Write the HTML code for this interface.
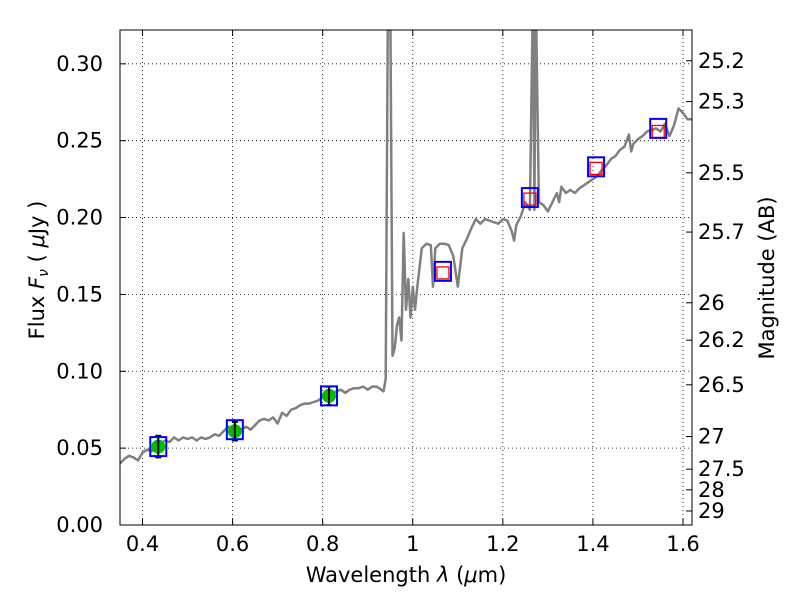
<!DOCTYPE html>
<html><head><meta charset="utf-8"><style>
body{margin:0;background:#fff}
svg text{font-family:"DejaVu Sans","Liberation Sans",sans-serif;fill:#000}
</style></head><body>
<svg id="chart" width="800" height="600" xmlns="http://www.w3.org/2000/svg">
<defs><clipPath id="clip"><rect x="120" y="30" width="572" height="495"/></clipPath></defs>
<g id="grid"></g>
<g id="spec" clip-path="url(#clip)"></g>
<g id="marks"></g>
<rect x="120" y="30" width="572" height="495" fill="none" stroke="#000" stroke-width="1"/>
<g id="axes"></g>
<text x="406" y="582" font-size="21" text-anchor="middle">Wavelength  <tspan font-style="italic">λ</tspan> (<tspan font-style="italic">μ</tspan>m)</text>
<text transform="translate(44,270) rotate(-90)" font-size="21" text-anchor="middle">Flux  <tspan font-style="italic">F</tspan><tspan font-style="italic" font-size="14" dy="4">ν</tspan><tspan dy="-4">  (  </tspan><tspan font-style="italic">μ</tspan>Jy )</text>
<text transform="translate(774,278) rotate(-90)" font-size="21" text-anchor="middle">Magnitude (AB)</text>
</svg>
<script>
const xTicks=[0.4,0.6,0.8,1,1.2,1.4,1.6];
const xTickLabels=["0.4","0.6","0.8","1","1.2","1.4","1.6"];
const yTicks=[0,0.05,0.1,0.15,0.2,0.25,0.3];
const yTickLabels=["0.00","0.05","0.10","0.15","0.20","0.25","0.30"];
const magTicks=[25.2,25.3,25.5,25.7,26,26.2,26.5,27,27.5,28,29];
const magTickLabels=["25.2","25.3","25.5","25.7","26","26.2","26.5","27","27.5","28","29"];
const specWave=[0.35,0.36,0.37,0.38,0.39,0.40,0.41,0.42,0.43,0.44,0.45,0.46,0.47,0.48,0.49,0.50,0.51,0.52,0.53,0.54,0.55,0.56,0.57,0.58,0.59,0.60,0.61,0.62,0.63,0.64,0.65,0.66,0.67,0.68,0.69,0.70,0.71,0.72,0.73,0.74,0.75,0.76,0.77,0.78,0.79,0.80,0.81,0.82,0.83,0.84,0.85,0.86,0.87,0.88,0.89,0.90,0.91,0.92,0.93,0.935,0.94,0.945,0.95,0.955,0.96,0.965,0.97,0.975,0.98,0.985,0.99,0.995,1.00,1.005,1.01,1.02,1.03,1.04,1.045,1.05,1.06,1.07,1.08,1.09,1.10,1.11,1.12,1.13,1.14,1.15,1.16,1.17,1.18,1.19,1.20,1.21,1.22,1.225,1.23,1.24,1.25,1.26,1.267,1.27,1.273,1.28,1.29,1.30,1.31,1.32,1.325,1.33,1.34,1.35,1.36,1.37,1.38,1.39,1.40,1.41,1.42,1.43,1.44,1.45,1.46,1.47,1.48,1.485,1.49,1.50,1.51,1.52,1.53,1.54,1.55,1.56,1.57,1.58,1.59,1.60,1.61,1.62];
const specFlux=[0.040,0.043,0.045,0.044,0.042,0.047,0.049,0.048,0.050,0.053,0.055,0.054,0.057,0.055,0.057,0.056,0.057,0.055,0.057,0.056,0.057,0.059,0.058,0.061,0.064,0.062,0.063,0.062,0.064,0.062,0.065,0.068,0.069,0.068,0.070,0.066,0.073,0.071,0.075,0.076,0.078,0.079,0.079,0.080,0.081,0.083,0.083,0.085,0.087,0.088,0.086,0.088,0.089,0.089,0.090,0.088,0.090,0.090,0.088,0.087,0.095,0.35,0.35,0.11,0.115,0.13,0.135,0.12,0.19,0.14,0.16,0.135,0.155,0.14,0.155,0.18,0.183,0.182,0.155,0.18,0.183,0.183,0.182,0.175,0.155,0.18,0.186,0.193,0.199,0.196,0.199,0.198,0.197,0.196,0.199,0.198,0.191,0.185,0.195,0.201,0.21,0.205,0.35,0.205,0.35,0.210,0.208,0.204,0.210,0.216,0.210,0.220,0.216,0.218,0.216,0.219,0.221,0.223,0.225,0.227,0.231,0.234,0.238,0.240,0.244,0.246,0.254,0.243,0.248,0.251,0.253,0.256,0.257,0.258,0.256,0.261,0.253,0.260,0.271,0.268,0.264,0.264];
const obsWave=[0.435,0.605,0.814];
const obsFlux=[0.051,0.061,0.084];
const obsErr=[0.007,0.006,0.006];
const modelWave=[0.435,0.605,0.814,1.067,1.26,1.407,1.545];
const modelFlux=[0.051,0.062,0.084,0.165,0.213,0.233,0.258];
const nirWave=[1.067,1.26,1.407,1.545];
const nirFlux=[0.164,0.212,0.232,0.256];

const X0=120,X1=692,Y0=525,Y1=30,xmin=0.35,xmax=1.62,ymin=0,ymax=0.322;
const sx=v=>X0+(v-xmin)/(xmax-xmin)*(X1-X0);
const sy=v=>Y0-(v-ymin)/(ymax-ymin)*(Y0-Y1);
const magToFlux=m=>Math.pow(10,(23.9-m)/2.5);
const NS="http://www.w3.org/2000/svg";
function mk(tag,attrs,parent){const e=document.createElementNS(NS,tag);for(const k in attrs)e.setAttribute(k,attrs[k]);parent.appendChild(e);return e;}
const grid=document.getElementById('grid'),axes=document.getElementById('axes'),spec=document.getElementById('spec'),marks=document.getElementById('marks');

xTicks.forEach((t,i)=>{const x=sx(t);
 const g=mk('line',{x1:x,x2:x,y1:Y1,y2:Y0,stroke:'#000','stroke-width':0.8,'stroke-dasharray':'1,3'},grid);
 
 
 mk('line',{x1:x,x2:x,y1:Y0,y2:Y0-6,stroke:'#000'},axes);
 mk('line',{x1:x,x2:x,y1:Y1,y2:Y1+6,stroke:'#000'},axes);
 const l=mk('text',{x:x,y:Y0+26,'font-size':21,'text-anchor':'middle'},axes);l.textContent=xTickLabels[i];
 
 
});
yTicks.forEach((t,i)=>{const y=sy(t);
 const g=mk('line',{x1:X0,x2:X1,y1:y,y2:y,stroke:'#000','stroke-width':0.8,'stroke-dasharray':'1,3'},grid);
 
 
 mk('line',{x1:X0,x2:X0+6,y1:y,y2:y,stroke:'#000'},axes);
 const l=mk('text',{x:X0-17,y:y+7,'font-size':21,'text-anchor':'end'},axes);l.textContent=yTickLabels[i];
 
 
});
magTicks.forEach((m,i)=>{const y=sy(magToFlux(m));
 mk('line',{x1:X1,x2:X1-6,y1:y,y2:y,stroke:'#000'},axes);
 const l=mk('text',{x:X1+6,y:y+7,'font-size':21},axes);l.textContent=magTickLabels[i];
 
 
});
const pts=specWave.map((w,i)=>sx(w).toFixed(1)+','+sy(specFlux[i]).toFixed(1)).join(' ');
const pl=mk('polyline',{points:pts,fill:'none',stroke:'#808080','stroke-width':2.5,'stroke-linejoin':'round'},spec);



obsWave.forEach((w,i)=>{const x=sx(w),y=sy(obsFlux[i]);
 const c=mk('circle',{cx:x,cy:y,r:7,fill:'#00bb00'},marks);
 
 
 const yt=sy(obsFlux[i]+obsErr[i]),yb=sy(obsFlux[i]-obsErr[i]);
 mk('line',{x1:x,x2:x,y1:yt,y2:yb,stroke:'#000','stroke-width':2},marks);
 mk('line',{x1:x-3,x2:x+3,y1:yt,y2:yt,stroke:'#000','stroke-width':2},marks);
 mk('line',{x1:x-3,x2:x+3,y1:yb,y2:yb,stroke:'#000','stroke-width':2},marks);
});
nirWave.forEach((w,i)=>{const x=sx(w),y=sy(nirFlux[i]);
 const r=mk('rect',{x:x-6,y:y-6,width:12,height:12,fill:'none',stroke:'#ff0000','stroke-width':1.3},marks);
 
 
});
modelWave.forEach((w,i)=>{const x=sx(w),y=sy(modelFlux[i]);
 const r=mk('rect',{x:x-8,y:y-9.5,width:16,height:19,fill:'none',stroke:'#0000ff','stroke-width':2},marks);
 
 
});
</script>
</body></html>
